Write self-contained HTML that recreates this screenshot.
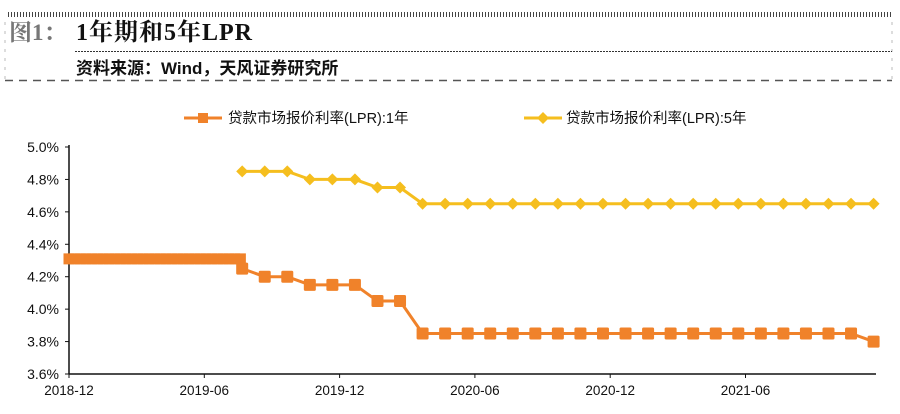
<!DOCTYPE html>
<html><head><meta charset="utf-8"><style>
body{margin:0;background:#fff;width:900px;height:409px;overflow:hidden;font-family:"Liberation Sans","Noto Sans CJK SC",sans-serif;}
</style></head><body>
<svg id="c" width="900" height="409" viewBox="0 0 900 409" xmlns="http://www.w3.org/2000/svg">
<line x1="8" y1="14.5" x2="893" y2="14.5" stroke="#444" stroke-width="5" stroke-dasharray="1,2"/>
<line x1="5" y1="22" x2="5" y2="80" stroke="#bbb" stroke-dasharray="3,6"/>
<line x1="892" y1="22" x2="892" y2="80" stroke="#bbb" stroke-dasharray="3,6"/>
<text x="9" y="40" font-family="'Liberation Serif','Noto Serif CJK SC',serif" font-size="23" font-weight="bold" fill="#777">图1：</text>
<text x="76" y="40" font-family="'Liberation Serif','Noto Serif CJK SC',serif" font-size="24" font-weight="bold" fill="#111" letter-spacing="1">1年期和5年LPR</text>
<line x1="75" y1="51.5" x2="892" y2="51.5" stroke="#333" stroke-dasharray="2,1"/>
<text x="76" y="74" font-size="17" font-weight="bold" fill="#111">资料来源：Wind，天风证券研究所</text>
<line x1="5" y1="80.5" x2="892" y2="80.5" stroke="#555" stroke-width="1.5" stroke-dasharray="8,6"/>
<g>
<g>
<line x1="184" y1="118" x2="222" y2="118" stroke="#F0822A" stroke-width="3"/>
<rect x="198" y="113" width="10" height="10" fill="#F0822A"/>
<text x="228" y="123" font-size="14.5" fill="#111">贷款市场报价利率(LPR):1年</text>
</g>
<g>
<line x1="524" y1="118" x2="562" y2="118" stroke="#F5BE1E" stroke-width="3"/>
<polygon points="543,112 549,118 543,124 537,118" fill="#F5BE1E"/>
<text x="566" y="123" font-size="14.5" fill="#111">贷款市场报价利率(LPR):5年</text>
</g>
</g>
<g id="axes"></g>
<g id="marks"></g>
</svg>
<script>
// data
const yTicks = [3.6, 3.8, 4.0, 4.2, 4.4, 4.6, 4.8, 5.0];
const xTickLabels = ["2018-12", "2019-06", "2019-12", "2020-06", "2020-12", "2021-06"];
const xTickMonths = [0, 6, 12, 18, 24, 30];
const preLprValues = [4.31,4.31,4.31,4.31,4.31,4.31,4.31,4.31,4.31,4.31,4.31,4.31,4.31,4.31,4.31,4.31,4.31,4.31,4.31,4.31,4.31,4.31,4.31,4.31,4.31,4.31,4.31,4.31,4.31,4.31,4.31];
const lpr1y = [4.25,4.20,4.20,4.15,4.15,4.15,4.05,4.05,3.85,3.85,3.85,3.85,3.85,3.85,3.85,3.85,3.85,3.85,3.85,3.85,3.85,3.85,3.85,3.85,3.85,3.85,3.85,3.85,3.80];
const lpr5y = [4.85,4.85,4.85,4.80,4.80,4.80,4.75,4.75,4.65,4.65,4.65,4.65,4.65,4.65,4.65,4.65,4.65,4.65,4.65,4.65,4.65,4.65,4.65,4.65,4.65,4.65,4.65,4.65,4.65];
const firstLprMonth = 7.68;
const preLprEndMonth = 7.6;

const X0 = 69, MW = 22.55, Y0 = 374, YTOP = 147;
const xs = m => X0 + m * MW;
const ys = v => Y0 - (v - 3.6) / (5.0 - 3.6) * (Y0 - YTOP);
const NS = "http://www.w3.org/2000/svg";
function mk(tag, attrs, parent) {
  const e = document.createElementNS(NS, tag);
  for (const k in attrs) e.setAttribute(k, attrs[k]);
  parent.appendChild(e);
  return e;
}
const axes = document.getElementById("axes"), marks = document.getElementById("marks");
let el = mk("line", {x1: X0, y1: YTOP - 2, x2: X0, y2: Y0, stroke: "#111", "stroke-width": 1.5}, axes);


el = mk("line", {x1: X0, y1: Y0, x2: 876, y2: Y0, stroke: "#111", "stroke-width": 1.5}, axes);


yTicks.forEach(v => {
  mk("line", {x1: X0 - 4, y1: ys(v), x2: X0, y2: ys(v), stroke: "#111"}, axes);
  const t = mk("text", {x: X0 - 10, y: ys(v) + 5, "text-anchor": "end", "font-size": 14, fill: "#111"}, axes);
  t.textContent = v.toFixed(1) + "%";
  
  
});
xTickMonths.forEach((m, i) => {
  mk("line", {x1: xs(m), y1: Y0, x2: xs(m), y2: Y0 + 4, stroke: "#111"}, axes);
  const t = mk("text", {x: xs(m), y: Y0 + 21, "text-anchor": "middle", "font-size": 13.5, fill: "#111"}, axes);
  t.textContent = xTickLabels[i];
  
  
});
// pre-LPR dense segment
const preStep = preLprEndMonth / (preLprValues.length - 1);
const prePts = preLprValues.map((v, i) => [xs(i * preStep), ys(v)]);
el = mk("polyline", {points: prePts.map(p => p.join(",")).join(" "), fill: "none", stroke: "#F0822A", "stroke-width": 3}, marks);


prePts.forEach(p => {
  const r = mk("rect", {x: p[0] - 5.5, y: p[1] - 5.5, width: 11, height: 11, fill: "#F0822A"}, marks);
  
  
});
// 1Y
const p1 = lpr1y.map((v, i) => [xs(firstLprMonth + i), ys(v)]);
el = mk("polyline", {points: [prePts[prePts.length - 1]].concat(p1).map(p => p.join(",")).join(" "), fill: "none", stroke: "#F0822A", "stroke-width": 3}, marks);


p1.forEach(p => {
  const r = mk("rect", {x: p[0] - 6, y: p[1] - 6, width: 12, height: 12, rx: 1.5, fill: "#F0822A"}, marks);
  
  
});
// 5Y
const p5 = lpr5y.map((v, i) => [xs(firstLprMonth + i), ys(v)]);
el = mk("polyline", {points: p5.map(p => p.join(",")).join(" "), fill: "none", stroke: "#F5BE1E", "stroke-width": 3}, marks);


p5.forEach(p => {
  const d = mk("polygon", {points: `${p[0]},${p[1]-6} ${p[0]+6},${p[1]} ${p[0]},${p[1]+6} ${p[0]-6},${p[1]}`, fill: "#F5BE1E"}, marks);
  
  
});
</script>
</body></html>
